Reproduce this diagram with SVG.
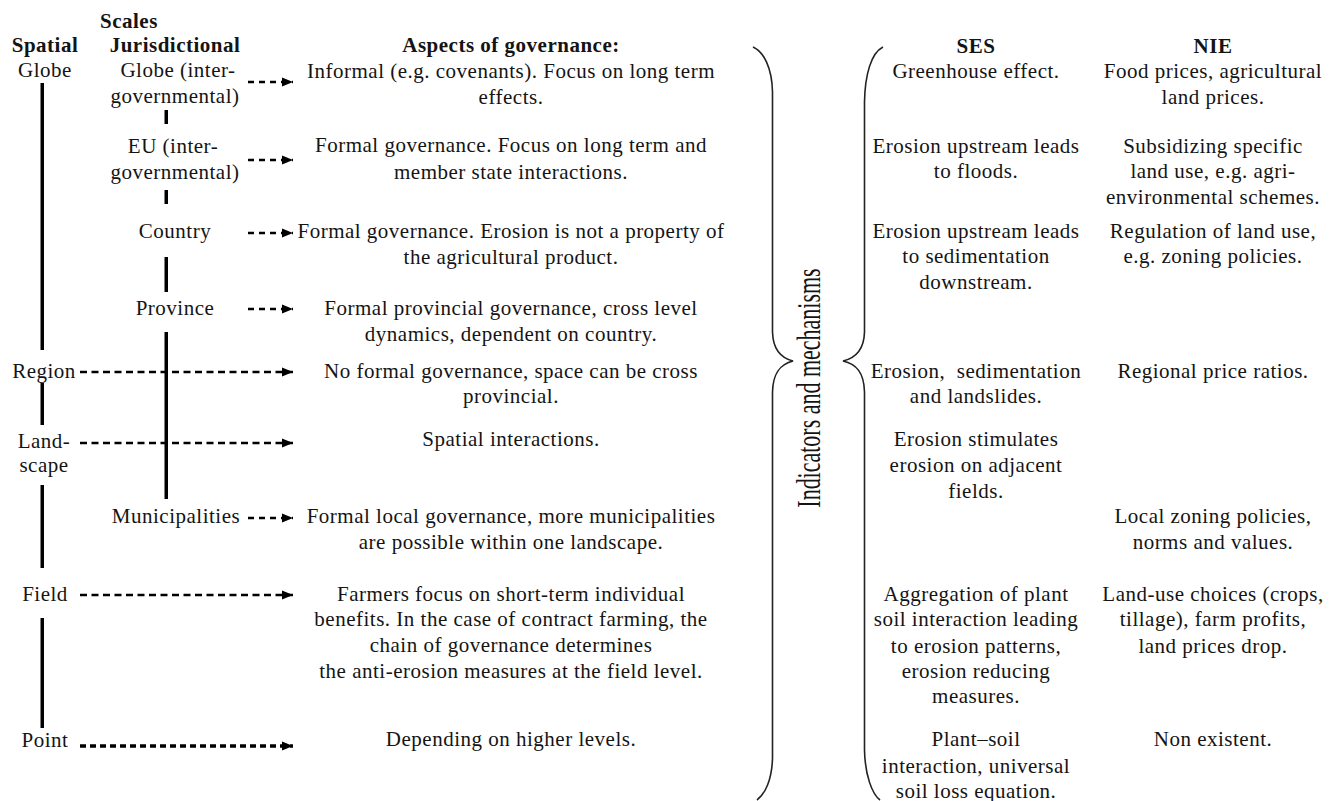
<svg xmlns="http://www.w3.org/2000/svg" width="1335" height="801" viewBox="0 0 1335 801">
<style>
text{font-family:"Liberation Serif","Times New Roman",serif;font-size:21px;letter-spacing:0.5px;fill:#141414;text-anchor:middle}
.b{font-weight:bold}
.s{text-anchor:start}
.bar{fill:#000}
.dash{stroke:#000;stroke-width:2.5;fill:none;stroke-dasharray:7 4.5}
.short{stroke:#000;stroke-width:2.5;fill:none;stroke-dasharray:6 5}
.dot{stroke:#000;stroke-width:3.5;fill:none;stroke-dasharray:6 4}
.brace{stroke:#222;stroke-width:1.6;fill:none}
</style>
<defs>
<marker id="ah" markerUnits="userSpaceOnUse" markerWidth="11" markerHeight="10" refX="11" refY="5" orient="auto">
<path d="M0,0.5 L11,5 L0,9.5 z" fill="#000"/>
</marker>
</defs>
<rect width="1335" height="801" fill="#fff"/>

<g id="headers">
<text class="b s" x="100" y="28">Scales</text>
<text class="b" x="45" y="52">Spatial</text>
<text class="b" x="175" y="52">Jurisdictional</text>
<text class="b" x="511" y="52">Aspects of governance:</text>
<text class="b" x="976" y="53">SES</text>
<text class="b" x="1213" y="53">NIE</text>
</g>

<g id="spatial-axis">
<rect class="bar" x="40.5" y="83" width="3.5" height="267"/>
<rect class="bar" x="40.5" y="383" width="3.5" height="42"/>
<rect class="bar" x="40.5" y="485" width="3.5" height="83"/>
<rect class="bar" x="40.5" y="618" width="3.5" height="110"/>
</g>
<g id="jurisdictional-axis">
<rect class="bar" x="164.5" y="110" width="3.5" height="14"/>
<rect class="bar" x="164.5" y="190" width="3.5" height="14"/>
<rect class="bar" x="164.5" y="257" width="3.5" height="35"/>
<rect class="bar" x="164.5" y="332" width="3.5" height="167"/>
</g>

<g id="connectors">
<line class="short" x1="248" y1="82" x2="293" y2="82" marker-end="url(#ah)"/>
<line class="short" x1="248" y1="160" x2="293" y2="160" marker-end="url(#ah)"/>
<line class="short" x1="248" y1="233" x2="293" y2="233" marker-end="url(#ah)"/>
<line class="short" x1="248" y1="309" x2="293" y2="309" marker-end="url(#ah)"/>
<line class="dash" x1="80" y1="372" x2="293" y2="372" marker-end="url(#ah)"/>
<line class="dash" x1="80" y1="443" x2="293" y2="443" marker-end="url(#ah)"/>
<line class="short" x1="248" y1="518" x2="293" y2="518" marker-end="url(#ah)"/>
<line class="dash" x1="80" y1="595" x2="293" y2="595" marker-end="url(#ah)"/>
<line class="dot" x1="80" y1="746" x2="293" y2="746" marker-end="url(#ah)"/>
</g>

<g id="spatial-globe"><text x="45" y="77">Globe</text></g>
<g id="spatial-region"><text x="44" y="378">Region</text></g>
<g id="spatial-landscape"><text x="44" y="448">Land-</text><text x="44" y="472">scape</text></g>
<g id="spatial-field"><text x="45" y="601">Field</text></g>
<g id="spatial-point"><text x="45" y="747">Point</text></g>

<g id="jur-globe"><text x="178" y="77">Globe (inter-</text><text x="175" y="103">governmental)</text></g>
<g id="jur-eu"><text x="173" y="153">EU (inter-</text><text x="175" y="179">governmental)</text></g>
<g id="jur-country"><text x="175" y="238">Country</text></g>
<g id="jur-province"><text x="175" y="315">Province</text></g>
<g id="jur-municipalities"><text x="176" y="523">Municipalities</text></g>

<g id="gov-globe"><text x="511" y="78">Informal (e.g. covenants). Focus on long term</text><text x="511" y="104">effects.</text></g>
<g id="gov-eu"><text x="511" y="152">Formal governance. Focus on long term and</text><text x="511" y="179">member state interactions.</text></g>
<g id="gov-country"><text x="511" y="238">Formal governance. Erosion is not a property of</text><text x="511" y="264">the agricultural product.</text></g>
<g id="gov-province"><text x="511" y="315">Formal provincial governance, cross level</text><text x="511" y="341">dynamics, dependent on country.</text></g>
<g id="gov-region"><text x="511" y="378">No formal governance, space can be cross</text><text x="511" y="403">provincial.</text></g>
<g id="gov-landscape"><text x="511" y="446">Spatial interactions.</text></g>
<g id="gov-municipalities"><text x="511" y="523">Formal local governance, more municipalities</text><text x="511" y="549">are possible within one landscape.</text></g>
<g id="gov-field"><text x="511" y="601">Farmers focus on short-term individual</text><text x="511" y="626">benefits. In the case of contract farming, the</text><text x="511" y="652">chain of governance determines</text><text x="511" y="678">the anti-erosion measures at the field level.</text></g>
<g id="gov-point"><text x="511" y="746">Depending on higher levels.</text></g>

<g id="braces">
<path class="brace" d="M753,47 C764,52 772,68 772.5,92 L772.5,332 C773,350 781,358 793,361 C781,364 773,372 772.5,392 L772.5,758 C772,780 765,794 757,800"/>
<path class="brace" d="M883,47 C871,53 865,75 864.5,102 L864.5,332 C864,350 856,358 843,361 C856,364 864,372 864.5,392 L864.5,750 C865,775 872,794 880,800"/>
<text transform="translate(820,388) rotate(-90) scale(1,1.5)" x="0" y="0" style="font-size:22px;letter-spacing:0">Indicators and mechanisms</text>
</g>

<g id="ses-globe"><text x="976" y="78">Greenhouse effect.</text></g>
<g id="ses-eu"><text x="976" y="153">Erosion upstream leads</text><text x="976" y="178">to floods.</text></g>
<g id="ses-country"><text x="976" y="238">Erosion upstream leads</text><text x="976" y="263">to sedimentation</text><text x="976" y="289">downstream.</text></g>
<g id="ses-region"><text x="976" y="378">Erosion,&#160; sedimentation</text><text x="976" y="403">and landslides.</text></g>
<g id="ses-landscape"><text x="976" y="446">Erosion stimulates</text><text x="976" y="472">erosion on adjacent</text><text x="976" y="498">fields.</text></g>
<g id="ses-field"><text x="976" y="601">Aggregation of plant</text><text x="976" y="626">soil interaction leading</text><text x="976" y="653">to erosion patterns,</text><text x="976" y="678">erosion reducing</text><text x="976" y="703">measures.</text></g>
<g id="ses-point"><text x="976" y="746">Plant–soil</text><text x="976" y="773">interaction, universal</text><text x="976" y="798">soil loss equation.</text></g>

<g id="nie-globe"><text x="1213" y="78">Food prices, agricultural</text><text x="1213" y="104">land prices.</text></g>
<g id="nie-eu"><text x="1213" y="153">Subsidizing specific</text><text x="1213" y="178">land use, e.g. agri-</text><text x="1213" y="204">environmental schemes.</text></g>
<g id="nie-country"><text x="1213" y="238">Regulation of land use,</text><text x="1213" y="263">e.g. zoning policies.</text></g>
<g id="nie-region"><text x="1213" y="378">Regional price ratios.</text></g>
<g id="nie-municipalities"><text x="1213" y="523">Local zoning policies,</text><text x="1213" y="549">norms and values.</text></g>
<g id="nie-field"><text x="1213" y="601">Land-use choices (crops,</text><text x="1213" y="626">tillage), farm profits,</text><text x="1213" y="653">land prices drop.</text></g>
<g id="nie-point"><text x="1213" y="746">Non existent.</text></g>
</svg>
